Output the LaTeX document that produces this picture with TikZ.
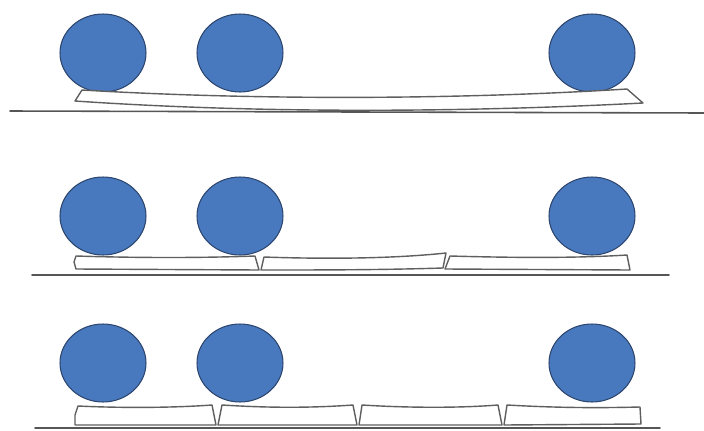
\documentclass[tikz,border=0pt]{standalone}
\usetikzlibrary{shapes.geometric}
\definecolor{ballblue}{RGB}{72,120,190}
\definecolor{balledge}{RGB}{45,70,110}
\definecolor{plankgray}{RGB}{95,95,95}
\begin{document}
\begin{tikzpicture}[x=0.02cm,y=-0.02cm,line cap=round,line join=round,
  ball/.style={draw=balledge,fill=ballblue,ellipse,line width=0.6pt,minimum width=1.72cm,minimum height=1.56cm,inner sep=0pt},
  plank/.style={draw=plankgray,fill=white,line width=0.8pt},
  ground/.style={draw=plankgray!90!black,line width=0.9pt}]
  \useasboundingbox (0,0) rectangle (704,430);
  % three rows of balls
  \foreach \r/\y in {1/53,2/216,3/363}{
    \foreach \c/\x in {a/103,b/240,c/592}{\node[ball] (ball-\r\c) at (\x,\y) {};}
  }
  % row 1: one long bent plank
  \draw[ground] (10,111)--(704,113);
  \draw[plank] (82,90) .. controls (250,100) and (450,100) .. (627,89) -- (643,103)
    .. controls (450,113) and (250,113) .. (75,101) -- cycle;
  % row 2: three pieces
  \draw[ground] (32,275)--(669,275);
  \draw[plank] (76,256) .. controls (140,258) and (200,258) .. (255,256) -- (259,270) -- (76,269) -- (74,262) -- cycle;
  \draw[plank] (264,257) .. controls (320,259) and (390,259) .. (446,253) -- (443,268)
    .. controls (380,270) and (320,270) .. (261,270) -- cycle;
  \draw[plank] (450,256) .. controls (520,258) and (580,258) .. (627,255) -- (630,270) -- (445,269) -- cycle;
  % row 3: four pieces
  \draw[ground] (35,428)--(660,428);
  \draw[plank] (78,406) .. controls (120,408) and (170,408) .. (212,405) -- (216,425) -- (75,425) -- (75,415) -- cycle;
  \draw[plank] (222,405) .. controls (270,408) and (310,408) .. (353,405) -- (357,425) -- (218,425) -- cycle;
  \draw[plank] (362,405) .. controls (410,408) and (460,408) .. (498,405) -- (502,425) -- (359,425) -- cycle;
  \draw[plank] (507,405) .. controls (560,408) and (600,408) .. (640,407) -- (641,424) -- (504,425) -- cycle;
\end{tikzpicture}
\end{document}
